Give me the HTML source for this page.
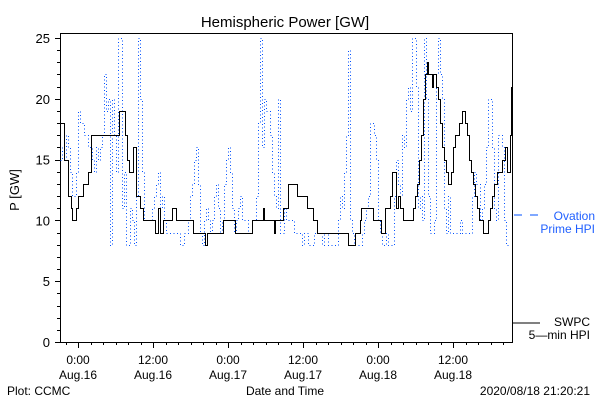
<!DOCTYPE html>
<html><head><meta charset="utf-8"><style>
html,body{margin:0;padding:0;background:#fff;}
svg{display:block;font-family:"Liberation Sans",sans-serif;}
</style></head><body>
<svg id="chart" width="600" height="400">
<rect width="600" height="400" fill="#fff"/>
<text x="285" y="27" font-size="15" text-anchor="middle">Hemispheric Power [GW]</text>
<text x="0" y="0" font-size="13" text-anchor="middle" transform="translate(19,190) rotate(-90)">P [GW]</text>
<text x="285" y="395" font-size="12" text-anchor="middle">Date and Time</text>
<text x="7" y="395" font-size="12">Plot: CCMC</text>
<text x="590" y="395" font-size="12" text-anchor="end">2020/08/18 21:20:21</text>
<g id="axes"></g>
<g id="series"></g>
<g>
<line x1="514" y1="215" x2="522" y2="215" stroke="#0050ff" stroke-width="1" shape-rendering="crispEdges"/>
<line x1="530" y1="215" x2="538" y2="215" stroke="#0050ff" stroke-width="1" shape-rendering="crispEdges"/>
<text x="595" y="220" font-size="12" fill="#1f5fff" text-anchor="end">Ovation</text>
<text x="595" y="233" font-size="12" fill="#1f5fff" text-anchor="end">Prime HPI</text>
<line x1="513" y1="323" x2="540" y2="323" stroke="#000" stroke-width="1" shape-rendering="crispEdges"/>
<text x="590" y="326" font-size="12" text-anchor="end">SWPC</text>
<text x="590" y="339" font-size="12" text-anchor="end">5—min HPI</text>
</g>
</svg>
<script>
const yTicks=[0,5,10,15,20,25];
const xTickHours=[0,12,24,36,48,60];
const xTickTimes=["0:00","12:00","0:00","12:00","0:00","12:00"];
const xTickDates=["Aug.16","Aug.16","Aug.17","Aug.17","Aug.18","Aug.18"];
const swpcHours=[-2.88,-2.2,-1.6,-1.12,-0.96,-0.32,0,0.8,1.6,2.08,6.56,7.52,7.84,8.16,8.8,9.28,9.92,10.4,12.32,12.8,13.12,13.6,15.04,15.68,18.4,20.32,20.64,23.2,25.12,27.84,29.6,29.76,31.36,31.52,32.8,33.6,35.04,36.64,37.6,38.24,43.2,44.32,45.12,45.28,47.2,48.48,49.12,49.92,50.24,50.88,51.2,51.52,52,53.6,53.92,54.24,54.56,54.88,55.2,55.52,55.84,56,56.64,56.8,57.28,57.6,57.92,58.24,58.56,58.88,59.2,59.68,60,60.32,60.96,61.44,61.92,62.24,62.56,62.88,63.2,63.52,63.84,64.16,64.8,65.6,65.92,66.24,66.56,67.04,67.84,68.32,68.64,69.12,69.28];
const swpcValues=[18,15,12,11,10,11,12,13,14,17,19,17,15,14,16,12,11,10,9,11,9,10,11,10,9,8,9,10,9,10,11,10,9,10,11,13,12,11,10,9,8,9,10,11,10,9,11,12,14,11,12,11,10,11,12,13,15,17,20,22,23,22,21,22,21,20,18,16,15,14,13,14,16,17,18,19,18,17,15,14,13,12,11,10,9,10,11,12,13,14,15,16,14,17,21];
const ovationStartHour=-2.88;
const ovationStepHours=0.32;
const ovationValues=[15,16,15,17,16,14,12,12,14,
19,18,18,17,17,16,16,15,14,16,
15,16,17,22,19,20,8,20,17,14,
25,25,11,14,8,8,11,10,8,12,
25,20,14,10,10,10,10,11,12,13,
14,11,12,10,9,9,9,9,9,9,
9,8,8,9,9,10,12,13,15,16,
13,9,8,10,11,10,9,10,12,13,
11,9,10,13,15,16,14,11,9,10,
11,12,10,10,10,9,9,10,10,12,
18,25,16,20,19,19,17,14,12,11,
20,9,9,11,10,10,10,10,9,9,
9,9,8,9,9,8,8,8,9,9,
9,9,8,9,9,8,8,8,8,8,
10,12,11,14,17,24,10,9,8,8,
8,8,9,10,11,12,18,18,17,15,
10,9,8,8,9,8,8,8,12,15,
13,12,17,16,20,21,19,25,25,21,
11,12,10,25,20,12,9,9,10,22,
25,22,20,11,9,12,9,9,9,9,
9,10,9,9,9,9,9,12,14,13,
13,10,11,13,16,20,20,16,11,10,
17,17,16,10,8,8];
const X0=60,X1=512,Y0=342,Ytop=33;
const H0=-2.88,H1=69.44;
function xs(h){return X0+(h-H0)/(H1-H0)*(X1-X0);}
function ys(v){return Y0-v*12.16;}
const NS="http://www.w3.org/2000/svg";
function mk(tag,parent,attrs){const e=document.createElementNS(NS,tag);for(const k in attrs)e.setAttribute(k,attrs[k]);parent.appendChild(e);return e;}
const axes=document.getElementById('axes'),series=document.getElementById('series');
const frame=mk('rect',axes,{x:X0+0.5,y:Ytop+0.5,width:X1-X0,height:Y0-Ytop,fill:'none',stroke:'#000','stroke-width':1});


for(let v=0;v<=25;v++){
 const len=(v%5===0)?5:3;
 const yy=Math.round(ys(v))+0.5;
 const t=mk('line',axes,{x1:X0-len,x2:X0,y1:yy,y2:yy,stroke:'#000','stroke-width':1});
 
 
}
yTicks.forEach(v=>{
 const t=mk('text',axes,{x:50,y:ys(v)+5,'font-size':13,'text-anchor':'end'});
 t.textContent=v;
 
 
});
for(let h=-2;h<=H1;h+=2){
 const major=(h%12===0);
 const xx=Math.round(xs(h))+0.5;
 const t=mk('line',axes,{x1:xx,x2:xx,y1:Y0,y2:Y0+(major?6:3),stroke:'#000','stroke-width':1});
 
 
}
xTickHours.forEach((h,i)=>{
 const a=mk('text',axes,{x:xs(h),y:364,'font-size':12,'text-anchor':'middle'});
 a.textContent=xTickTimes[i];
 
 
 const b=mk('text',axes,{x:xs(h),y:379,'font-size':12,'text-anchor':'middle'});
 b.textContent=xTickDates[i];
 
 
});
function clampV(v){return Math.min(v,25.4);}
function px(v){return (Math.round(v)+0.5).toFixed(1);}
let d='';
ovationValues.forEach((v,i)=>{
 const x=xs(ovationStartHour+i*ovationStepHours),y=ys(clampV(v));
 d+=(i===0?'M':'L')+px(x)+','+px(y)+' ';
 const xn=xs(ovationStartHour+(i+1)*ovationStepHours);
 d+='L'+px(Math.min(xn,X1))+','+px(y)+' ';
});
const ov=mk('path',series,{d:d,fill:'none',stroke:'#0050ff','stroke-width':1,'stroke-dasharray':'1,2.5','shape-rendering':'crispEdges'});


let d2='';
swpcHours.forEach((h,i)=>{
 const x=xs(h),y=ys(clampV(swpcValues[i]));
 d2+=(i===0?'M':'L')+px(x)+','+px(y)+' ';
 const hn=(i+1<swpcHours.length)?swpcHours[i+1]:H1;
 d2+='L'+px(xs(hn))+','+px(y)+' ';
});
const sw=mk('path',series,{d:d2,fill:'none',stroke:'#000','stroke-width':1.1,'shape-rendering':'crispEdges'});


</script>
</body></html>
